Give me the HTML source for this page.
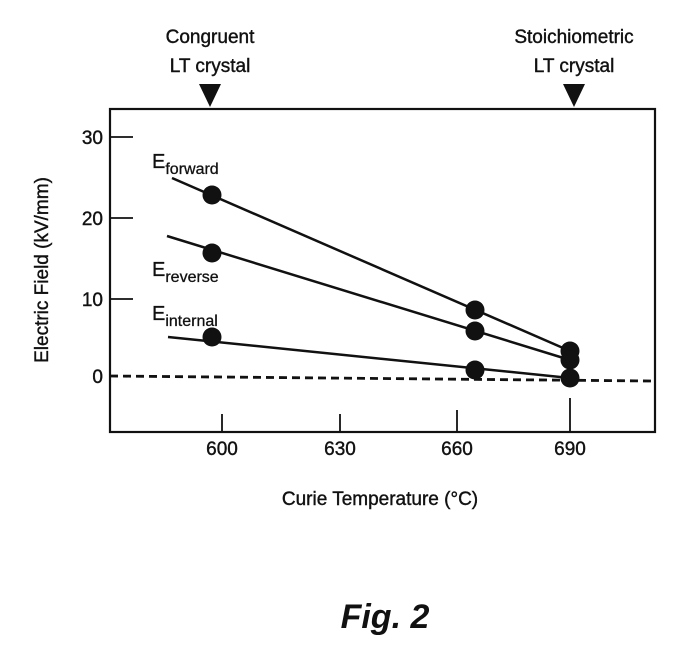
<!DOCTYPE html>
<html><head><style>body{margin:0;background:#fff}</style></head><body>
<svg width="700" height="649" xmlns="http://www.w3.org/2000/svg" font-family="Liberation Sans, sans-serif" fill="#111">
<rect x="110" y="109" width="545" height="323" fill="none" stroke="#111" stroke-width="2.2"/>
<g stroke="#111" stroke-width="1.8">
<line x1="110" y1="137" x2="133" y2="137"/><line x1="110" y1="218" x2="133" y2="218"/><line x1="110" y1="299" x2="133" y2="299"/>
<line x1="222" y1="432" x2="222" y2="414"/><line x1="340" y1="432" x2="340" y2="414"/><line x1="457" y1="432" x2="457" y2="410"/><line x1="570" y1="432" x2="570" y2="398"/>
</g>
<line x1="110" y1="376" x2="652" y2="381" stroke="#111" stroke-width="2.8" stroke-dasharray="8,5"/>
<g stroke="#111" stroke-width="2.5">
<line x1="172" y1="178" x2="570" y2="351"/><line x1="167" y1="236" x2="570" y2="360"/><line x1="168" y1="337" x2="570" y2="378"/>
</g>
<g>
<circle cx="212" cy="195" r="9.5"/><circle cx="212" cy="253" r="9.5"/><circle cx="212" cy="337" r="9.5"/>
<circle cx="475" cy="310" r="9.5"/><circle cx="475" cy="331" r="9.5"/><circle cx="475" cy="370" r="9.5"/>
<circle cx="570" cy="351" r="9.5"/><circle cx="570" cy="360" r="9.5"/><circle cx="570" cy="378" r="9.5"/>
</g>
<g font-size="19" text-anchor="end" stroke="#111" stroke-width="0.4">
<text x="103" y="144">30</text><text x="103" y="225">20</text><text x="103" y="306">10</text><text x="103" y="383">0</text>
</g>
<g font-size="19" text-anchor="middle" stroke="#111" stroke-width="0.4">
<text x="222" y="455">600</text><text x="340" y="455">630</text><text x="457" y="455">660</text><text x="570" y="455">690</text>
<text x="380" y="505">Curie Temperature (°C)</text>
<text x="210" y="43">Congruent</text><text x="210" y="72">LT crystal</text>
<text x="574" y="43">Stoichiometric</text><text x="574" y="72">LT crystal</text>
</g>
<polygon points="199,84 221,84 210,107"/><polygon points="563,84 585,84 574,107"/>
<text x="48" y="270" font-size="19" text-anchor="middle" stroke="#111" stroke-width="0.4" transform="rotate(-90 48 270)">Electric Field (kV/mm)</text>
<g font-size="20" stroke="#111" stroke-width="0.3"><text x="152" y="168">E<tspan font-size="16" dy="6">forward</tspan></text>
<text x="152" y="276">E<tspan font-size="16" dy="6">reverse</tspan></text>
<text x="152" y="320">E<tspan font-size="16" dy="6">internal</tspan></text></g>
<text x="385" y="628" font-size="34" font-weight="bold" font-style="italic" text-anchor="middle">Fig. 2</text>
</svg>
</body></html>
